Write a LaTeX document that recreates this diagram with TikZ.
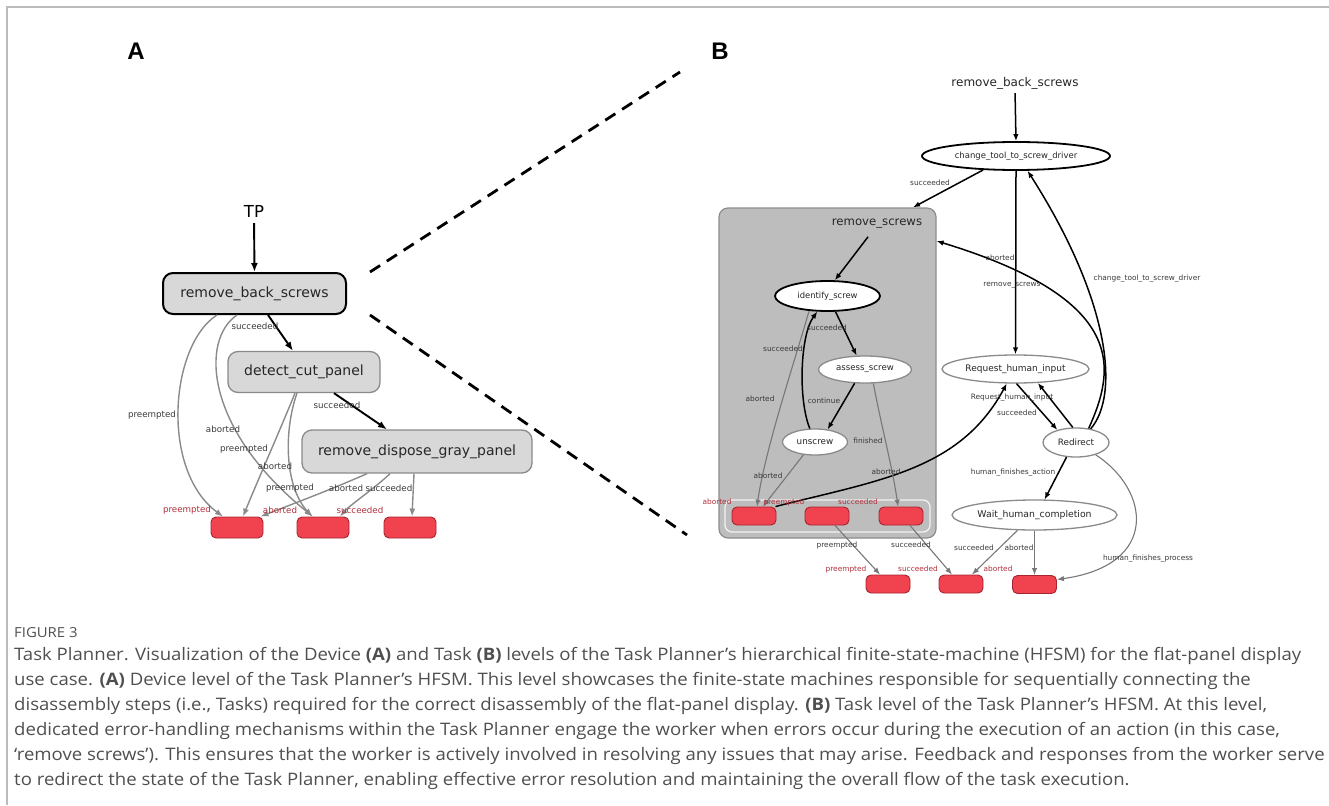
\documentclass[tikz,border=0pt]{standalone}
\usepackage{fontspec}
\setmainfont{Open Sans}
\newfontfamily\capfont{Open Sans}[FakeStretch=1.08]
\newfontfamily\dvfont{DejaVu Sans}
\newfontfamily\arialfont{Liberation Sans}
\usetikzlibrary{shapes.geometric,arrows.meta}
\definecolor{boxgray}{HTML}{D8D8D8}
\definecolor{contgray}{HTML}{BDBDBD}
\definecolor{contline}{HTML}{8C8C8C}
\definecolor{edgegray}{HTML}{8A8A8A}
\definecolor{edgegrayB}{HTML}{777777}
\definecolor{redfill}{HTML}{F0434F}
\definecolor{redline}{HTML}{A52430}
\definecolor{redtext}{HTML}{B0303C}
\definecolor{labgray}{HTML}{3A3A3A}
\definecolor{captext}{HTML}{4F4F4F}
\definecolor{framegray}{HTML}{BBBBBB}
\newcommand\myfs[1]{\fontsize{#1}{#1}\selectfont}
\tikzset{
  abox/.style={draw=edgegray, line width=1.3pt, fill=boxgray, rounded corners=10pt, inner sep=0pt, font=\dvfont\myfs{14}, text=black!85},
  redbox/.style={draw=redline, line width=0.9pt, fill=redfill, rounded corners=5pt, inner sep=0pt},
  ellB/.style={ellipse, draw=edgegray, line width=1.3pt, fill=white, inner sep=0pt, font=\dvfont\myfs{8.8}, text=black!85},
  labA/.style={font=\dvfont\myfs{8.7}, text=labgray, inner sep=0pt},
  labB/.style={font=\dvfont\myfs{7.4}, text=labgray, inner sep=0pt},
  redA/.style={font=\dvfont\myfs{8.7}, text=redtext, inner sep=0pt},
  redB/.style={font=\dvfont\myfs{7.4}, text=redtext, inner sep=0pt},
  blkA/.style={draw=black, line width=1.9pt, -{Latex[length=9pt,width=7pt]}},
  gryA/.style={draw=edgegray, line width=1.4pt, -{Latex[length=8pt,width=6pt]}},
  blkB/.style={draw=black, line width=1.5pt, -{Latex[length=7pt,width=5.5pt]}},
  gryB/.style={draw=edgegrayB, line width=1.1pt, -{Latex[length=7pt,width=5.5pt]}},
  capline/.style={anchor=base west, inner sep=0pt, font=\capfont\myfs{17.2}, text=captext},
  zoomline/.style={draw=black, line width=2.8pt, dash pattern=on 12pt off 8pt}
}
\begin{document}
\begin{tikzpicture}[x=1pt,y=-1pt]
\useasboundingbox (0,0) rectangle (1329,805);
% frame
\coordinate (fa) at (7,805);
\coordinate (fb) at (7,7);
\coordinate (fc) at (1329,7);
\draw[framegray, line width=1.5pt] (fa) -- (fb) -- (fc);

% panel letters
\node[font=\arialfont\bfseries\myfs{24}] (la) at (136,51) {A};
\node[font=\arialfont\bfseries\myfs{24}] (lb) at (720,51) {B};

% ================= Panel A =================
\node[font=\dvfont\myfs{16.5}, inner sep=1pt] (tp) at (254,211) {TP};
\node[abox, draw=black, line width=2pt, minimum width=183pt, minimum height=41pt] (rbs) at (254.5,293.5) {remove\_back\_screws};
\node[abox, minimum width=152pt, minimum height=41pt] (dcp) at (304,372) {detect\_cut\_panel};
\node[abox, minimum width=230pt, minimum height=43pt] (rdg) at (417,451.5) {remove\_dispose\_gray\_panel};
\node[redbox, minimum width=52pt, minimum height=21pt] (a1) at (237,527.5) {};
\node[redbox, minimum width=52pt, minimum height=21pt] (a2) at (323,527.5) {};
\node[redbox, minimum width=52pt, minimum height=21pt] (a3) at (410,527.5) {};

\draw[blkA, shorten <=5pt] (tp.south) -- (rbs.north);
\draw[blkA] ([xshift=13.5pt]rbs.south) -- ([xshift=-11pt]dcp.north);
\draw[blkA] ([xshift=30pt]dcp.south) -- ([xshift=-30pt]rdg.north);
\draw[gryA] ([xshift=-37.5pt]rbs.south) .. controls (170,345) and (160,470) .. ([xshift=-14pt]a1.north);
\draw[gryA] ([xshift=-17.5pt]rbs.south) .. controls (200,340) and (205,430) .. ([xshift=-10pt]a2.north);
\draw[gryA] ([xshift=-9pt]dcp.south) .. controls (280,430) and (258,480) .. ([xshift=6pt]a1.north);
\draw[gryA] ([xshift=-7pt]dcp.south) .. controls (284,430) and (284,485) .. ([xshift=-11pt]a2.north);
\draw[gryA] ([xshift=-50pt]rdg.south) .. controls (330,490) and (290,505) .. ([xshift=-3pt]a1.north east);
\draw[gryA] ([xshift=-27pt]rdg.south) .. controls (375,488) and (350,505) .. ([xshift=17pt]a2.north);
\draw[gryA] ([xshift=-3pt]rdg.south) -- ([xshift=2pt]a3.north);

\node[labA] (lA1) at (255,326) {succeeded};
\node[labA] (lA2) at (337,405) {succeeded};
\node[labA] (lA3) at (152,415) {preempted};
\node[labA] (lA4) at (223,429) {aborted};
\node[labA] (lA5) at (244,449) {preempted};
\node[labA] (lA6) at (275,466) {aborted};
\node[labA] (lA7) at (290,488) {preempted};
\node[labA] (lA8) at (346,488) {aborted};
\node[labA] (lA9) at (389,488) {succeeded};
\node[redA] (rA1) at (187,510) {preempted};
\node[redA] (rA2) at (280,510) {aborted};
\node[redA] (rA3) at (360,510) {succeeded};

% zoom lines
\coordinate (z0a) at (370,272);
\coordinate (z0b) at (370,315);
\coordinate (z1) at (680,72);
\coordinate (z2) at (687,535);
\draw[zoomline] (z0a) -- (z1);
\draw[zoomline] (z0b) -- (z2);

% ================= Panel B =================
\node[rectangle, draw=contline, line width=1.2pt, fill=contgray, rounded corners=9pt, minimum width=217pt, minimum height=330pt] (cont) at (827.5,373) {};
\node[font=\dvfont\myfs{11.7}, text=black!85, inner sep=0pt] (rsl) at (877,224) {remove\_screws};
\node[rectangle, draw=white!90!gray, line width=1.3pt, rounded corners=7pt, minimum width=205pt, minimum height=32pt] (ifr) at (827.5,516) {};

\node[font=\dvfont\myfs{12}, text=black!85, inner sep=1pt] (rbsB) at (1015,83) {remove\_back\_screws};
\node[ellB, draw=black, line width=1.8pt, minimum width=188pt, minimum height=28pt, font=\dvfont\myfs{8.5}] (ct) at (1016,156) {change\_tool\_to\_screw\_driver};
\node[ellB, draw=black, line width=1.8pt, minimum width=105pt, minimum height=30pt, font=\dvfont\myfs{8.4}] (ids) at (827.5,296) {identify\_screw};
\node[ellB, minimum width=93pt, minimum height=27pt, font=\dvfont\myfs{8.6}] (asc) at (865,369.5) {assess\_screw};
\node[ellB, minimum width=65pt, minimum height=26pt] (uns) at (815,442) {unscrew};
\node[ellB, minimum width=147pt, minimum height=28pt, font=\dvfont\myfs{9}] (rhi) at (1015.5,369) {Request\_human\_input};
\node[ellB, minimum width=66pt, minimum height=29pt] (red) at (1076,442.5) {Redirect};
\node[ellB, minimum width=165pt, minimum height=30pt, font=\dvfont\myfs{9.3}] (whc) at (1034.5,515) {Wait\_human\_completion};

\node[redbox, minimum width=44pt, minimum height=18pt] (r1) at (754,516) {};
\node[redbox, minimum width=44pt, minimum height=18pt] (r2) at (827,516) {};
\node[redbox, minimum width=44pt, minimum height=18pt] (r3) at (901,516) {};
\node[redbox, minimum width=44pt, minimum height=18pt] (o1) at (888,584) {};
\node[redbox, minimum width=44pt, minimum height=18pt] (o2) at (961,584) {};
\node[redbox, minimum width=44pt, minimum height=18pt] (o3) at (1034.5,584.5) {};

% black edges
\draw[blkB, shorten <=3pt] (rbsB.south) -- (ct.north);
\draw[blkB] (ct.-157) -- ([xshift=85.5pt]cont.north);
\draw[blkB] (ct.south) -- (rhi.north);
\draw[blkB] ([xshift=-9pt,yshift=-8pt]rsl.south) -- (ids.65);
\draw[blkB] (ids.-63) -- (asc.121);
\draw[blkB] (asc.-127) -- (uns.45);
\draw[blkB] (uns.111) .. controls (798,400) and (800,335) .. (ids.-123);
\draw[blkB] ([xshift=-1pt]r1.north east) .. controls (880,480) and (960,470) .. (rhi.-121);
\draw[blkB] (rhi.-86) -- (red.146);
\draw[blkB] (red.102) -- (rhi.-32);
\draw[blkB] (red.48) .. controls (1115,370) and (1130,300) .. ([yshift=132pt]cont.east);
\draw[blkB] (red.43) .. controls (1120,395) and (1110,300) .. (ct.-52);
\draw[blkB] (red.-123) -- (whc.57);

% gray edges
\draw[gryB] (ids.-141) .. controls (795,360) and (765,450) .. ([xshift=3pt]r1.north);
\draw[gryB] (uns.-132) -- ([xshift=9pt]r1.north);
\draw[gryB] (asc.-59) .. controls (880,420) and (893,470) .. ([xshift=-3pt]r3.north);
\draw[gryB] ([xshift=8pt]r2.south) -- ([xshift=-8pt]o1.north);
\draw[gryB] ([xshift=9pt]r3.south) -- ([xshift=-9pt]o2.north);
\draw[gryB] (whc.-138) -- ([xshift=11pt]o2.north);
\draw[gryB] (whc.south) -- (o3.north);
\draw[gryB] (red.-32) .. controls (1150,490) and (1160,565) .. ([yshift=5pt]o3.east);

% B labels
\node[labB] (lB1) at (930,183) {succeeded};
\node[labB] (lB2) at (1000,258) {aborted};
\node[labB] (lB3) at (1012,285) {remove\_screws};
\node[labB] (lB4) at (1147,279) {change\_tool\_to\_screw\_driver};
\node[labB] (lB5) at (827,328) {succeeded};
\node[labB] (lB6) at (783,349) {succeeded};
\node[labB] (lB7) at (760,399) {aborted};
\node[labB] (lB8) at (824,401) {continue};
\node[labB] (lB9) at (868,441) {finished};
\node[labB] (lB10) at (768,476) {aborted};
\node[labB] (lB11) at (886,472) {aborted};
\node[labB] (lB12) at (1012,398) {Request\_human\_input};
\node[labB] (lB13) at (1017,413) {succeeded};
\node[labB] (lB14) at (1013,473) {human\_finishes\_action};
\node[labB] (lB15) at (974,548) {succeeded};
\node[labB] (lB16) at (1019,548) {aborted};
\node[labB] (lB17) at (1148,559) {human\_finishes\_process};
\node[labB] (lB18) at (837,545) {preempted};
\node[labB] (lB19) at (911,545) {succeeded};
\node[redB] (rB1) at (717,502) {aborted};
\node[redB] (rB2) at (784,502) {preempted};
\node[redB] (rB3) at (858,502) {succeeded};
\node[redB] (rB4) at (846,569) {preempted};
\node[redB] (rB5) at (918,569) {succeeded};
\node[redB] (rB6) at (998,569) {aborted};

% ================= Caption =================
\node[capline, font=\capfont\myfs{13.8}] (fig) at (14,637) {FIGURE 3};
\node[capline] (c1) at (14,660) {Task Planner. Visualization of the Device \textbf{(A)} and Task \textbf{(B)} levels of the Task Planner’s hierarchical finite-state-machine (HFSM) for the flat-panel display};
\node[capline] (c2) at (14,685) {use case. \textbf{(A)} Device level of the Task Planner’s HFSM. This level showcases the finite-state machines responsible for sequentially connecting the};
\node[capline] (c3) at (14,710) {disassembly steps (i.e., Tasks) required for the correct disassembly of the flat-panel display. \textbf{(B)} Task level of the Task Planner’s HFSM. At this level,};
\node[capline] (c4) at (14,735) {dedicated error-handling mechanisms within the Task Planner engage the worker when errors occur during the execution of an action (in this case,};
\node[capline] (c5) at (14,760) {‘remove screws’). This ensures that the worker is actively involved in resolving any issues that may arise. Feedback and responses from the worker serve};
\node[capline] (c6) at (14,785) {to redirect the state of the Task Planner, enabling effective error resolution and maintaining the overall flow of the task execution.};
\end{tikzpicture}
\end{document}
